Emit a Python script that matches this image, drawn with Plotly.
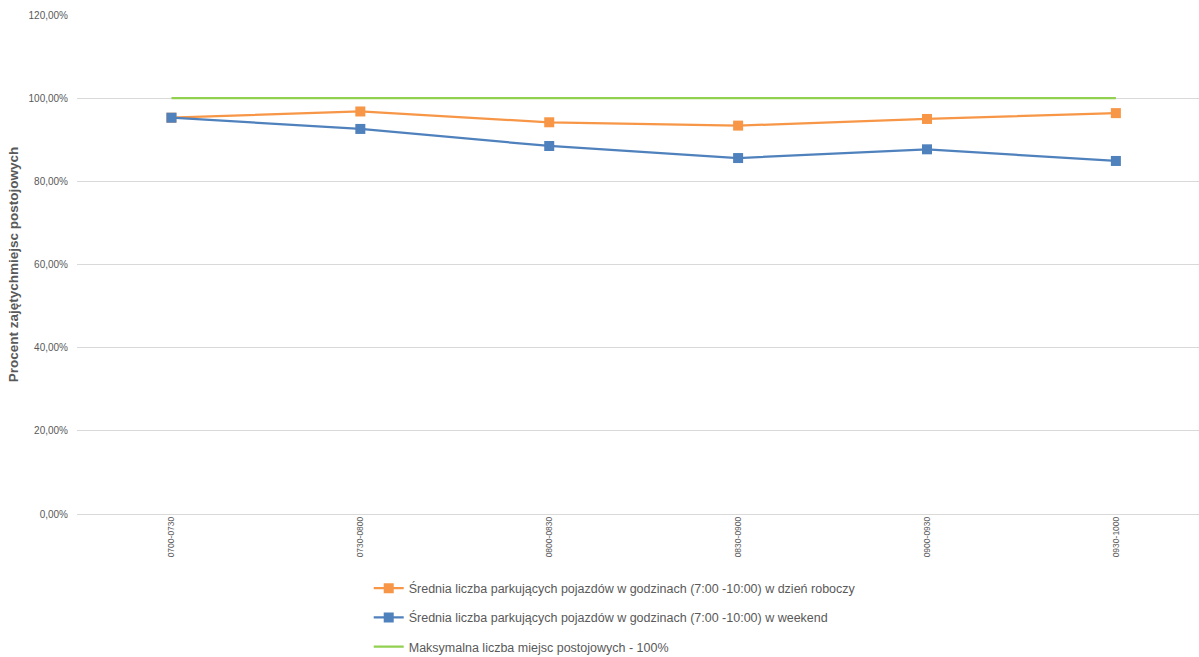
import plotly.graph_objects as go

# Przedziały czasowe (kategorie osi X)
przedzialy = ["0700-0730", "0730-0800", "0800-0830", "0830-0900", "0900-0930", "0930-1000"]

# Procent zajętych miejsc postojowych
dzien_roboczy = [95.3, 96.8, 94.2, 93.4, 95.0, 96.4]
weekend = [95.3, 92.6, 88.5, 85.6, 87.7, 84.9]
maksimum = [100, 100, 100, 100, 100, 100]

nazwy = [
    "Średnia liczba parkujących pojazdów w godzinach (7:00 -10:00) w dzień roboczy",
    "Średnia liczba parkujących pojazdów w godzinach (7:00 -10:00) w weekend",
    "Maksymalna liczba miejsc postojowych - 100%",
]

POMARANCZ = "#F79646"
NIEBIESKI = "#4F81BD"
ZIELONY = "#92D050"
SZARY = "#595959"
SIATKA = "#D9D9D9"

fig = go.Figure()

fig.add_trace(go.Scatter(
    x=przedzialy, y=maksimum, name=nazwy[2], mode="lines",
    line=dict(color=ZIELONY, width=2.25), legendgroup="c", legendrank=3,
))
fig.add_trace(go.Scatter(
    x=przedzialy, y=dzien_roboczy, name=nazwy[0], mode="lines+markers",
    line=dict(color=POMARANCZ, width=2.25),
    marker=dict(symbol="square", size=10, color=POMARANCZ),
    legendgroup="a", legendrank=1,
))
fig.add_trace(go.Scatter(
    x=przedzialy, y=weekend, name=nazwy[1], mode="lines+markers",
    line=dict(color=NIEBIESKI, width=2.25),
    marker=dict(symbol="square", size=10, color=NIEBIESKI),
    legendgroup="b", legendrank=2,
))

fig.update_layout(
    width=1199, height=657,
    margin=dict(l=77, r=0, t=15, b=143, autoexpand=False),
    paper_bgcolor="white", plot_bgcolor="white",
    separators=", ",
    font=dict(family="Liberation Sans, Arial, sans-serif", color=SZARY),
    showlegend=True,
    legend=dict(
        orientation="v", x=0.26, xanchor="left",
        yref="container", y=0.127, yanchor="top",
        font=dict(size=12.5, color=SZARY), tracegroupgap=10,
        bgcolor="rgba(0,0,0,0)",
    ),
    xaxis=dict(
        type="category", range=[-0.5, 5.44],
        showgrid=False, showline=False, ticks="",
        tickangle=-90, tickfont=dict(size=8.5, color=SZARY),
    ),
    yaxis=dict(
        range=[0, 120], dtick=20, tickformat=".2f", ticksuffix="%",
        showgrid=True, gridcolor=SIATKA, gridwidth=1,
        zeroline=True, zerolinecolor=SIATKA, zerolinewidth=1,
        showline=False, ticks="", ticklabelstandoff=8,
        tickfont=dict(size=10, color=SZARY),
        title=dict(text="<b>Procent zajętychmiejsc postojowych</b>",
                   font=dict(size=13.5, color=SZARY), standoff=6),
    ),
)

fig.write_html("out.html")
